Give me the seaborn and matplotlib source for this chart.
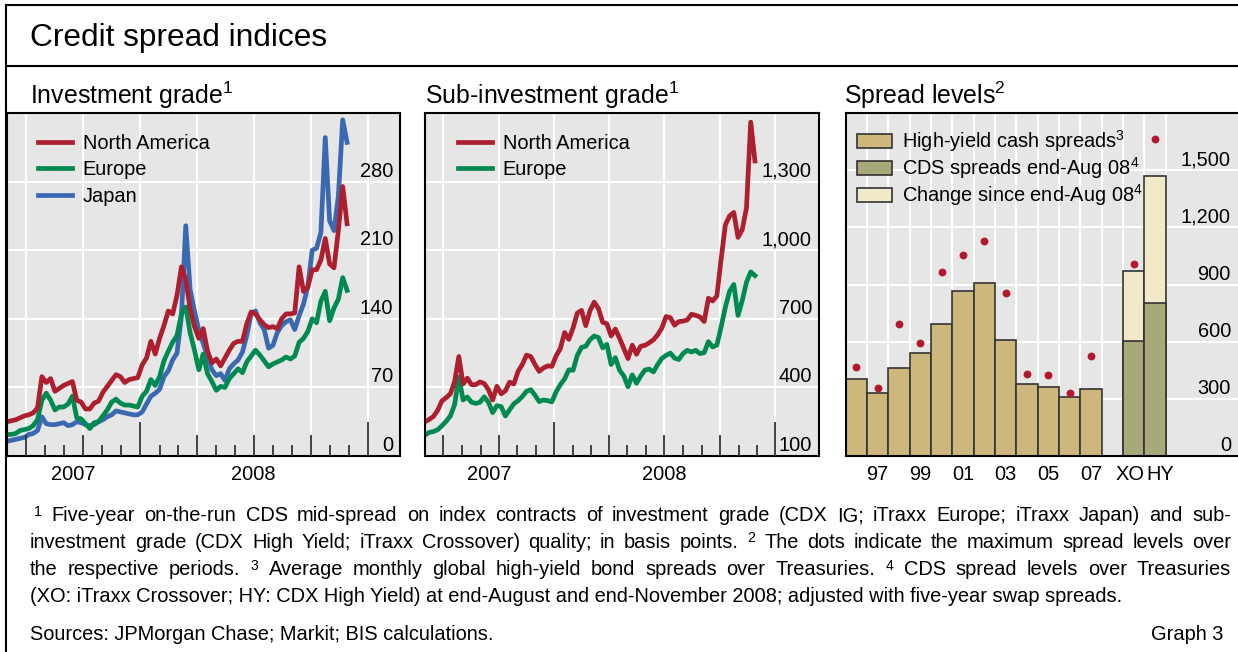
import matplotlib.pyplot as plt
import matplotlib.dates as mdates
import seaborn as sns
import pandas as pd
from matplotlib.lines import Line2D
from matplotlib.patches import Patch
from matplotlib.transforms import offset_copy

plt.rcParams['font.family'] = ['Liberation Sans', 'DejaVu Sans']
plt.rcParams['mathtext.default'] = 'regular'

# weekly readings, Jun 2007 to end-Nov 2008, basis points
weeks = pd.date_range('2007-06-01', periods=79, freq='7D')

ig_na = [35, 36, 37, 39, 41, 42, 44, 49, 81, 75,
         79, 66, 69, 72, 74, 76, 57, 55, 48, 48,
         54, 56, 65, 71, 77, 83, 81, 75, 78, 79,
         80, 93, 100, 117, 104, 120, 133, 148, 145, 164,
         193, 180, 150, 132, 120, 130, 107, 95, 99, 92,
         100, 108, 115, 117, 117, 135, 147, 145, 139, 134,
         131, 132, 130, 140, 145, 145, 146, 193, 168, 172,
         190, 190, 200, 222, 196, 192, 230, 275, 237]
ig_eu = [22, 22, 23, 26, 27, 28, 31, 37, 57, 64,
         57, 47, 50, 50, 53, 61, 39, 38, 33, 28,
         34, 35, 41, 47, 55, 58, 54, 52, 52, 51,
         50, 61, 66, 78, 72, 81, 97, 107, 116, 123,
         145, 152, 126, 108, 88, 104, 84, 76, 67, 71,
         70, 79, 84, 89, 85, 96, 102, 108, 103, 97,
         91, 94, 96, 98, 101, 99, 102, 116, 120, 127,
         140, 136, 158, 168, 138, 151, 160, 182, 169]
ig_jp = [15, 16, 17, 18, 19, 22, 23, 26, 40, 33,
         32, 32, 33, 34, 31, 32, 35, 34, 32, 31,
         32, 35, 37, 40, 42, 46, 45, 44, 43, 42,
         42, 45, 53, 61, 64, 68, 81, 87, 98, 105,
         142, 235, 170, 148, 128, 115, 101, 88, 82, 84,
         77, 89, 94, 98, 106, 123, 145, 148, 136, 129,
         110, 113, 126, 133, 137, 139, 129, 143, 155, 173,
         210, 212, 228, 325, 240, 230, 265, 343, 320]
hy_na = [250, 260, 273, 300, 341, 355, 372, 425, 535, 415,
         440, 412, 412, 424, 417, 390, 345, 405, 372, 385,
         423, 415, 470, 500, 541, 535, 500, 470, 485, 494,
         492, 538, 570, 640, 610, 660, 725, 737, 670, 735,
         773, 745, 685, 678, 625, 655, 615, 570, 526, 585,
         545, 580, 584, 595, 608, 630, 660, 710, 705, 672,
         688, 690, 695, 720, 715, 708, 688, 790, 778, 800,
         960, 1110, 1150, 1165, 1056, 1090, 1185, 1560, 1390]
hy_eu = [192, 203, 207, 215, 232, 252, 275, 325, 445, 345,
         358, 335, 330, 335, 359, 335, 290, 320, 316, 275,
         302, 328, 342, 360, 383, 390, 366, 338, 345, 342,
         337, 381, 412, 437, 477, 475, 540, 575, 580, 608,
         625, 618, 573, 588, 500, 530, 475, 450, 403, 455,
         418, 450, 476, 480, 468, 500, 527, 540, 550, 528,
         522, 548, 562, 555, 562, 548, 552, 600, 577, 585,
         664, 750, 820, 850, 715, 780, 860, 905, 889]

# spread levels panel
year_pos = list(range(12))          # 1996 .. 2007
hy_cash = [403, 333, 463, 542, 695, 866, 910, 607, 379, 360, 312, 349]
hy_cash_max = [467, 356, 695, 593, 965, 1056, 1130, 854, 428, 424, 331, 524]
cds_pos = [13, 14]                  # XO, HY
cds_aug = [603, 802]
cds_nov = [970, 1468]
cds_max = [1010, 1663]
bar_labels = ['97', '99', '01', '03', '05', '07']
bar_label_pos = [1, 3, 5, 7, 9, 11]

RED, GREEN, BLUE = '#AD1F2E', '#008A50', '#3A69B1'
BG = '#E6E6E6'
TAN, OLIVE, CREAM, DOT, EDGE = '#CDB77C', '#A8A878', '#F2E9C9', '#B3182D', '#333333'
W, H = 1238, 652
FS = 14.4

fig = plt.figure(figsize=(W / 100, H / 100), dpi=100)


def px_axes(x0, x1, y0=113, y1=456):
    return fig.add_axes([x0 / W, 1 - y1 / H, (x1 - x0) / W, (y1 - y0) / H])


def ftext(x, y, s, **kw):
    return fig.text(x / W, 1 - y / H, s, va='baseline', **kw)


def frame(ax):
    ax.set_facecolor(BG)
    ax.grid(True, color='white', lw=1.5)
    ax.set_axisbelow(True)
    ax.tick_params(length=0, labelbottom=False, labelleft=False)
    ax.set_xlabel('')
    ax.set_ylabel('')
    for s in ax.spines.values():
        s.set_linewidth(1.5)


def ylabels(ax, ticks):
    tr = offset_copy(ax.get_yaxis_transform(), fig=fig, x=-7, y=5, units='dots')
    for v in ticks:
        ax.text(1, v, f'{v:,}', transform=tr, ha='right', va='baseline', fontsize=FS)


def xlabel(ax, x, s, ha='center'):
    tr = offset_copy(ax.get_xaxis_transform(), fig=fig, x=0, y=-24, units='dots')
    ax.text(x, 0, s, transform=tr, ha=ha, va='baseline', fontsize=FS)


months = pd.date_range('2007-07-01', '2009-01-01', freq='MS')
quarters = months[months.month.isin([1, 4, 7, 10])]
tick_len = [34 if m.month == 1 else 21 if m.month in (4, 7, 10) else 11 for m in months]


def time_panel(ax, series, ylim, yticks, right):
    for vals, col in series:
        sns.lineplot(x=weeks, y=vals, color=col, lw=3.4, solid_joinstyle='round', ax=ax)
    left = pd.Timestamp('2007-06-01')
    ax.vlines(months, 0, [l / 343 for l in tick_len], transform=ax.get_xaxis_transform(),
              colors=EDGE, lw=1.3, zorder=3)
    ax.set_xlim(left, pd.Timestamp(right))
    ax.set_ylim(*ylim)
    ax.set_xticks(quarters)
    ax.set_yticks(yticks)
    frame(ax)
    ylabels(ax, yticks)
    jan08 = pd.Timestamp('2008-01-01')
    xlabel(ax, mdates.date2num(left + (jan08 - left) / 2), '2007')
    xlabel(ax, mdates.date2num(pd.Timestamp('2008-07-01')), '2008')


def line_legend(ax, items, x):
    handles = [Line2D([], [], color=c, lw=3.4) for _, c in items]
    ax.legend(handles, [n for n, _ in items], loc='upper left', bbox_to_anchor=(x, 0.94),
              frameon=False, fontsize=FS, handlelength=1.7, handletextpad=0.53,
              labelspacing=0.38, borderpad=0, borderaxespad=0)


# panel 1: investment grade
ax1 = px_axes(7, 400)
time_panel(ax1, [(ig_jp, BLUE), (ig_eu, GREEN), (ig_na, RED)], (0, 350),
           [0, 70, 140, 210, 280], '2009-02-21')
line_legend(ax1, [('North America', RED), ('Europe', GREEN), ('Japan', BLUE)], 31 / 393)

# panel 2: sub-investment grade
ax2 = px_axes(425, 819)
time_panel(ax2, [(hy_eu, GREEN), (hy_na, RED)], (100, 1600),
           [100, 400, 700, 1000, 1300], '2009-03-14')
line_legend(ax2, [('North America', RED), ('Europe', GREEN)], 33 / 394)

# panel 3: spread levels
ax3 = px_axes(845.7, 1238)
bar_kw = dict(native_scale=True, width=1, saturation=1, edgecolor=EDGE, linewidth=1.2,
              errorbar=None, ax=ax3)
sns.barplot(x=year_pos, y=hy_cash, color=TAN, **bar_kw)
sns.barplot(x=cds_pos, y=cds_nov, color=CREAM, **bar_kw)
sns.barplot(x=cds_pos, y=cds_aug, color=OLIVE, **bar_kw)
sns.scatterplot(x=year_pos + cds_pos, y=hy_cash_max + cds_max, color=DOT, s=32,
                linewidth=0, zorder=4, ax=ax3)
ax3.set_xlim(-0.5, 17.89)
ax3.set_ylim(0, 1800)
ax3.set_xticks([i + 0.5 for i in range(-1, 15)])
ax3.set_yticks([0, 300, 600, 900, 1200, 1500])
frame(ax3)
ax3.spines['right'].set_visible(False)
ylabels(ax3, [0, 300, 600, 900, 1200, 1500])
for p, s in zip(bar_label_pos, bar_labels):
    xlabel(ax3, p, s)
xlabel(ax3, 13.5, 'XO', ha='right')
xlabel(ax3, 13.58, 'HY', ha='left')
patches = [Patch(facecolor=c, edgecolor=EDGE, lw=1.2) for c in (TAN, OLIVE, CREAM)]
ax3.legend(patches, ['High-yield cash spreads$^{3}$', 'CDS spreads end-Aug 08$^{4}$',
                     'Change since end-Aug 08$^{4}$'],
           loc='upper left', bbox_to_anchor=(11.7 / 392.3, 0.955), frameon=False, fontsize=FS,
           handlelength=1.75, handleheight=0.7, handletextpad=0.47, labelspacing=0.05,
           borderpad=0, borderaxespad=0)

# outer frame and titles
for xs, ys in [([6, 6], [5, H]), ([6, W], [5, 5]), ([6, W], [66, 66])]:
    fig.add_artist(Line2D([x / W for x in xs], [1 - y / H for y in ys], color='black', lw=1.5))
ftext(30, 46, 'Credit spread indices', fontsize=22.8)
ftext(30, 104, 'Investment grade$^{1}$', fontsize=17.9)
ftext(425, 104, 'Sub-investment grade$^{1}$', fontsize=17.9)
ftext(844, 104, 'Spread levels$^{2}$', fontsize=17.9)

# footnotes, justified
notes = [
    '$^{1}$ Five-year on-the-run CDS mid-spread on index contracts of investment grade '
    '(CDX IG; iTraxx Europe; iTraxx Japan) and sub-',
    'investment grade (CDX High Yield; iTraxx Crossover) quality; in basis points. $^{2}$ '
    'The dots indicate the maximum spread levels over',
    'the respective periods. $^{3}$ Average monthly global high-yield bond spreads over '
    'Treasuries. $^{4}$ CDS spread levels over Treasuries',
]
renderer = fig.canvas.get_renderer()
for i, line in enumerate(notes):
    y = 521 + 27 * i
    x0 = 33 if i == 0 else 30
    words = [ftext(x0, y, w, fontsize=FS) for w in line.split()]
    widths = [t.get_window_extent(renderer).width for t in words]
    gap = (1231 - x0 - sum(widths)) / (len(words) - 1)
    x = x0
    for t, w in zip(words, widths):
        t.set_x(x / W)
        x += w + gap
ftext(30, 602, '(XO: iTraxx Crossover; HY: CDX High Yield) at end-August and end-November 2008; '
      'adjusted with five-year swap spreads.', fontsize=FS)
ftext(30, 640, 'Sources: JPMorgan Chase; Markit; BIS calculations.', fontsize=FS)
ftext(1223, 640, 'Graph 3', fontsize=FS, ha='right')

fig.savefig('out.png', dpi=100)
